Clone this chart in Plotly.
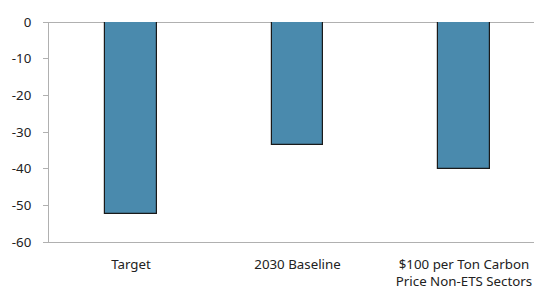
import plotly.graph_objects as go

categories = ["Target", "2030 Baseline", "$100 per Ton Carbon<br>Price Non-ETS Sectors"]
values = [-52.4, -33.6, -40.2]
y_ticks = [0, -10, -20, -30, -40, -50, -60]

fig = go.Figure()
fig.add_trace(go.Bar(
    x=[0, 1, 2], y=values,
    width=0.31,
    marker=dict(color="#4a8aad", line=dict(color="#1a1a1a", width=1.2)),
))
# page body adds an 8px margin, so the figure is sized to fit the remaining window
fig.update_layout(
    width=534, height=285,
    margin=dict(l=41, r=1, t=14, b=51),
    paper_bgcolor="white", plot_bgcolor="white",
    font=dict(family="Noto Sans, Open Sans, sans-serif", size=13.3, color="#222"),
    showlegend=False,
    bargap=0,
)
fig.update_xaxes(
    range=[-0.4925, 2.4625],
    tickmode="array", tickvals=[0, 1, 2], ticktext=categories,
    showline=True, linecolor="#b0b0b0", linewidth=1,
    showgrid=False, zeroline=False, ticks="", ticklabelstandoff=10,
    automargin=False, fixedrange=True,
)
fig.update_yaxes(
    range=[-60, 0],
    tickmode="array", tickvals=y_ticks, ticktext=[str(v) for v in y_ticks],
    showline=True, linecolor="#b0b0b0", linewidth=1,
    showgrid=False, zeroline=True, zerolinecolor="#b0b0b0", zerolinewidth=1,
    ticks="outside", ticklen=5, tickcolor="#b0b0b0",
    ticklabelstandoff=9, automargin=False,
)
fig.write_html("out.html")
